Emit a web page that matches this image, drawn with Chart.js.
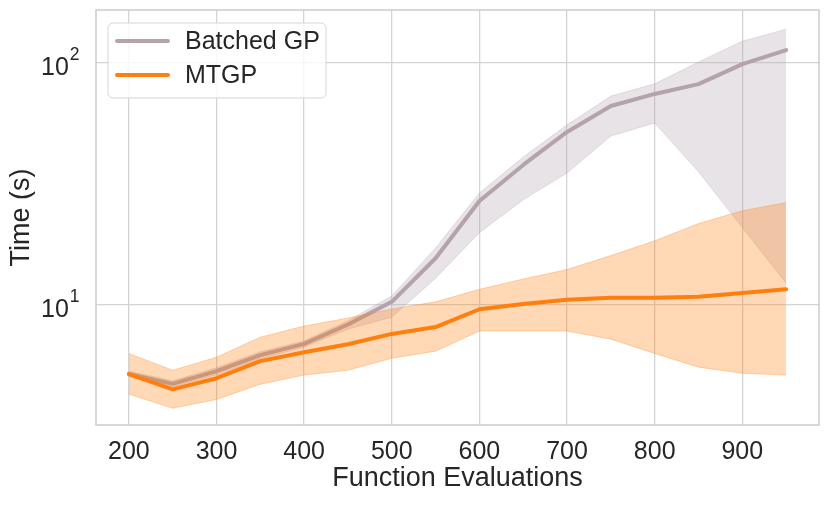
<!DOCTYPE html>
<html>
<head>
<meta charset="utf-8">
<script src="https://cdn.jsdelivr.net/npm/chart.js@4.4.1/dist/chart.umd.min.js"></script>
<style>
  body { margin: 0; background: #fff; }
  #wrap { width: 831px; height: 505px; position: relative; }
</style>
</head>
<body>
<div id="wrap"><canvas id="timeChart"></canvas></div>
<script>
// function evaluations
const evals = [200, 250, 300, 350, 400, 450, 500, 550, 600, 650, 700, 750, 800, 850, 900, 950];

// Batched GP time (s)
const batchedMean = [5.18, 4.72, 5.33, 6.2, 6.9, 8.3, 10.3, 15.6, 26.9, 37.9, 51.9, 66.4, 74.5, 81.8, 99, 113];
const batchedLow = [5.05, 4.58, 5.15, 5.98, 6.7, 7.95, 8.9, 12.9, 19.9, 27.2, 35.1, 49.9, 56.5, 35.5, 20.9, 12.3];
const batchedHigh = [5.32, 4.86, 5.5, 6.4, 7.1, 8.6, 10.9, 17.2, 29, 40.9, 55.5, 73, 82, 101, 123, 138];

// MTGP time (s)
const mtgpMean = [5.18, 4.48, 4.98, 5.86, 6.38, 6.88, 7.59, 8.1, 9.6, 10.1, 10.5, 10.7, 10.7, 10.8, 11.2, 11.6];
const mtgpLow = [4.28, 3.74, 4.07, 4.7, 5.13, 5.37, 6.02, 6.44, 7.8, 7.8, 7.8, 7.22, 6.3, 5.53, 5.22, 5.13];
const mtgpHigh = [6.3, 5.37, 6.08, 7.36, 8.18, 8.83, 9.62, 10.3, 11.6, 12.8, 14.0, 16.0, 18.4, 21.7, 24.5, 26.5];

const xTicks = [200, 300, 400, 500, 600, 700, 800, 900];
const yTicks = [10, 100];
// y tick labels as base and exponent (10^1, 10^2)
const yTickBase = ["10", "10"];
const yTickExp = ["1", "2"];

const seriesNames = ["Batched GP", "MTGP"];
const lineColors = ["#b4a2ad", "#ff7f0e"];
const bandColors = ["rgba(180, 162, 173, 0.3)", "rgba(255, 127, 14, 0.3)"];

const textColor = "#262626";
const gridColor = "#d4d4d4";
const fontName = "'Liberation Sans', Arial, sans-serif";

function points(ys) {
  return evals.map((x, i) => ({ x: x, y: ys[i] }));
}

function band(ys, color, order, fill) {
  return {
    data: points(ys),
    borderColor: color,
    backgroundColor: color,
    borderWidth: 1,
    pointRadius: 0,
    fill: fill,
    order: order,
  };
}

function meanLine(ys, label, color, order) {
  return {
    label: label,
    data: points(ys),
    borderColor: color,
    borderWidth: 4,
    pointRadius: 0,
    fill: false,
    order: order,
    borderCapStyle: "round",
    borderJoinStyle: "round",
  };
}

// frame, log tick labels and legend drawn by hand
const framePlugin = {
  id: "frame",
  afterDraw(chart) {
    const { ctx, chartArea: a } = chart;
    ctx.save();
    ctx.strokeStyle = "#cccccc";
    ctx.lineWidth = 1.5;
    ctx.strokeRect(a.left, a.top, a.right - a.left, a.bottom - a.top);

    // 10^n labels with raised exponent
    const yScale = chart.scales.y;
    ctx.fillStyle = textColor;
    ctx.textAlign = "left";
    ctx.textBaseline = "alphabetic";
    for (let i = 0; i < yTicks.length; i++) {
      const py = yScale.getPixelForValue(yTicks[i]);
      ctx.font = "25px " + fontName;
      const x0 = a.left - 55;
      ctx.fillText(yTickBase[i], x0, py + 12);
      const w = ctx.measureText(yTickBase[i]).width;
      ctx.font = "17.5px " + fontName;
      ctx.fillText(yTickExp[i], x0 + w + 1, py - 3);
    }

    const bx = a.left + 12, by = a.top + 13, bw = 218, bh = 75;
    ctx.beginPath();
    ctx.roundRect(bx, by, bw, bh, 5);
    ctx.fillStyle = "rgba(255,255,255,0.8)";
    ctx.fill();
    ctx.strokeStyle = "#d6d6d6";
    ctx.lineWidth = 1;
    ctx.stroke();

    ctx.font = "25px " + fontName;
    ctx.textBaseline = "middle";
    for (let i = 0; i < seriesNames.length; i++) {
      const y = by + 18 + i * 34;
      ctx.beginPath();
      ctx.moveTo(bx + 9, y);
      ctx.lineTo(bx + 60, y);
      ctx.strokeStyle = lineColors[i];
      ctx.lineWidth = 4;
      ctx.lineCap = "round";
      ctx.stroke();
      ctx.fillStyle = textColor;
      ctx.fillText(seriesNames[i], bx + 77, y + 1);
    }
    ctx.restore();
  },
};

new Chart(document.getElementById("timeChart"), {
  type: "line",
  data: {
    datasets: [
      band(batchedHigh, bandColors[0], 6, "+1"),
      band(batchedLow, bandColors[0], 5, false),
      meanLine(batchedMean, seriesNames[0], lineColors[0], 4),
      band(mtgpHigh, bandColors[1], 3, "+1"),
      band(mtgpLow, bandColors[1], 2, false),
      meanLine(mtgpMean, seriesNames[1], lineColors[1], 1),
    ],
  },
  options: {
    responsive: true,
    maintainAspectRatio: false,
    animation: false,
    layout: { padding: { top: 10, right: 12, left: 0, bottom: 0 } },
    plugins: {
      legend: { display: false },
      tooltip: { enabled: false },
    },
    scales: {
      x: {
        type: "linear",
        min: 162.5,
        max: 987.5,
        afterBuildTicks: (scale) => {
          scale.ticks = xTicks.map((v) => ({ value: v }));
        },
        afterFit: (scale) => {
          scale.height = 80;
          scale.paddingLeft = 0;
          scale.paddingRight = 0;
        },
        grid: { color: gridColor, lineWidth: 1.3, drawTicks: false },
        border: { display: false },
        ticks: {
          color: textColor,
          font: { family: fontName, size: 25 },
          padding: 12,
          maxRotation: 0,
        },
        title: {
          display: true,
          text: "Function Evaluations",
          color: textColor,
          font: { family: fontName, size: 27 },
          padding: { top: 0, bottom: 10 },
        },
      },
      y: {
        type: "logarithmic",
        min: 3.19,
        max: 165.6,
        afterBuildTicks: (scale) => {
          scale.ticks = yTicks.map((v) => ({ value: v }));
        },
        afterFit: (scale) => {
          scale.width = 96;
          scale.paddingTop = 0;
          scale.paddingBottom = 0;
        },
        grid: { color: gridColor, lineWidth: 1.3, drawTicks: false },
        border: { display: false },
        ticks: { display: false },
        title: {
          display: true,
          text: "Time (s)",
          color: textColor,
          font: { family: fontName, size: 27 },
          padding: { top: 5, bottom: 0 },
        },
      },
    },
  },
  plugins: [framePlugin],
});
</script>
</body>
</html>
